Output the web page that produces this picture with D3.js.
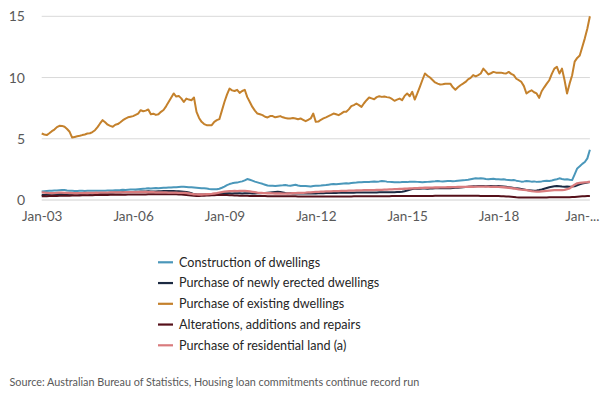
<!DOCTYPE html>
<html><head><meta charset="utf-8">
<script src="https://cdn.jsdelivr.net/npm/d3@7"></script>
<style>
html,body{margin:0;padding:0;background:#fff;}
svg{display:block;font-family:Lato,"Segoe UI","Open Sans",sans-serif;}
</style></head>
<body>
<svg id="chart" width="600" height="399"></svg>
<script>
// Monthly categories Jan-03 .. Jan-21
const startYear = 2003, monthCount = 217;
const categories = d3.range(monthCount).map(i => new Date(startYear, i, 1));
const tickLabels = ["Jan-03","Jan-06","Jan-09","Jan-12","Jan-15","Jan-18","Jan-..."];
const tickIndices = [0,36,72,108,144,180,216];
const yTicks = [0,5,10,15];

const seriesNames = ["Construction of dwellings","Purchase of newly erected dwellings","Purchase of existing dwellings","Alterations, additions and repairs","Purchase of residential land (a)"];
const seriesColors = ["#4a97ba","#1c2a42","#c4812c","#55101a","#d97b7d"];

const construction = [
0.70,0.72,0.74,0.75,0.76,0.78,0.78,0.80,0.82,0.81,0.78,0.76,
0.75,0.74,0.74,0.75,0.75,0.74,0.75,0.76,0.75,0.75,0.76,0.76,0.75,
0.75,0.77,0.78,0.78,0.80,0.80,0.81,0.83,0.82,0.84,0.85,0.86,0.86,0.88,0.90,0.92,0.93,
0.95,0.94,0.96,0.97,0.96,0.98,1.00,1.01,1.02,1.03,1.05,1.04,1.06,1.08,
1.09,1.07,1.05,1.04,1.02,1.00,0.98,0.96,0.95,0.93,0.90,0.88,0.87,0.87,
0.92,1.00,1.10,1.22,1.30,1.36,1.40,1.42,1.48,1.52,1.60,1.71,1.65,1.58,1.50,
1.44,1.38,1.32,1.25,1.18,1.16,1.17,1.15,1.17,1.19,1.20,1.22,1.18,1.16,1.20,
1.24,1.18,1.14,1.15,1.14,1.12,1.10,1.14,1.16,1.17,1.18,1.20,1.22,1.25,1.28,
1.30,1.28,1.30,1.32,1.34,1.36,1.35,1.38,1.40,1.42,1.45,1.44,1.46,1.48,1.47,1.50,1.52,
1.50,1.52,1.55,1.54,1.50,1.48,1.46,1.44,1.45,1.44,1.47,1.48,1.46,1.49,1.50,1.50,1.48,1.46,1.44,
1.46,1.48,1.50,1.52,1.53,1.55,1.53,1.52,1.54,1.55,1.56,1.54,1.55,1.58,1.60,1.62,1.63,1.66,1.70,1.74,1.77,1.75,
1.77,1.76,1.72,1.70,1.72,1.74,1.70,1.69,1.68,1.70,1.66,1.64,1.62,1.63,1.58,1.54,1.50,1.52,
1.55,1.53,1.50,1.52,1.48,1.50,1.52,1.55,1.57,1.56,1.60,1.65,1.70,1.77,1.72,1.68,1.70,1.65,
1.63,2.10,2.58,2.75,2.95,3.10,3.40,4.10];

const newlyErected = [
0.41,0.40,0.42,0.43,0.44,0.45,0.46,0.47,0.46,0.45,0.44,0.44,
0.45,0.46,0.47,0.48,0.49,0.50,0.51,0.52,0.53,0.54,0.55,0.56,
0.57,0.58,0.58,0.59,0.60,0.61,0.62,0.62,0.63,0.64,0.65,0.66,
0.66,0.67,0.68,0.69,0.70,0.70,0.71,0.70,0.69,0.70,0.71,0.72,
0.73,0.74,0.73,0.74,0.73,0.72,0.71,0.70,0.68,0.66,0.62,0.55,
0.48,0.46,0.45,0.44,0.45,0.46,0.47,0.48,0.50,0.52,0.53,0.54,
0.55,0.56,0.55,0.54,0.55,0.56,0.55,0.54,0.55,0.56,0.55,0.54,
0.54,0.55,0.56,0.57,0.58,0.60,0.62,0.64,0.66,0.68,0.66,0.62,
0.58,0.56,0.55,0.54,0.55,0.54,0.53,0.54,0.55,0.54,0.53,0.54,
0.54,0.55,0.56,0.56,0.57,0.57,0.58,0.58,0.58,0.59,0.59,0.59,
0.60,0.60,0.60,0.60,0.61,0.61,0.61,0.61,0.62,0.62,0.62,0.62,
0.62,0.63,0.63,0.63,0.63,0.64,0.64,0.64,0.65,0.66,0.68,0.72,
0.78,0.84,0.90,0.92,0.93,0.92,0.93,0.94,0.92,0.93,0.94,0.95,
0.96,0.95,0.96,0.97,0.95,0.96,0.98,0.99,1.00,1.02,1.04,1.06,
1.08,1.10,1.12,1.13,1.14,1.14,1.15,1.13,1.14,1.15,1.14,1.13,
1.14,1.12,1.10,1.08,1.05,1.02,0.98,0.95,0.93,0.90,0.86,0.82,
0.80,0.78,0.76,0.78,0.81,0.86,0.92,0.98,1.04,1.08,1.12,1.14,
1.12,1.10,1.09,1.10,1.09,1.10,1.12,1.20,1.28,1.34,1.38,1.42,1.46];

const existing = [
5.43,5.35,5.30,5.45,5.62,5.75,5.95,6.06,6.05,5.98,5.80,5.57,
5.10,5.15,5.20,5.24,5.30,5.35,5.43,5.45,5.55,5.70,5.95,6.25,
6.52,6.35,6.15,6.05,5.98,6.15,6.20,6.35,6.52,6.65,6.75,6.80,
6.85,6.95,7.06,7.33,7.25,7.30,7.39,7.00,7.05,6.95,7.00,7.20,
7.35,7.65,8.00,8.35,8.70,8.45,8.50,8.30,8.00,8.28,8.20,8.15,
8.37,7.20,6.70,6.38,6.20,6.11,6.11,6.11,6.38,6.52,6.60,7.30,
8.00,8.60,9.10,8.95,8.90,9.00,8.75,8.90,9.00,8.40,8.00,7.60,
7.30,7.06,7.00,6.93,6.80,6.74,6.85,6.85,6.75,6.80,6.85,6.75,
6.70,6.66,6.66,6.70,6.66,6.60,6.66,6.55,6.44,6.55,6.66,7.06,
6.38,6.40,6.55,6.66,6.75,6.85,6.95,7.06,7.00,6.93,7.05,7.20,
7.20,7.40,7.66,7.75,7.88,7.75,7.60,7.90,8.15,8.37,8.30,8.23,
8.40,8.47,8.42,8.45,8.40,8.37,8.25,8.10,8.20,8.28,8.15,8.50,
8.70,8.47,8.83,8.20,8.70,9.24,9.80,10.33,10.15,10.00,9.80,9.60,
9.50,9.43,9.45,9.50,9.50,9.50,9.20,9.00,9.20,9.37,9.50,9.64,
9.85,9.97,10.20,10.10,10.20,10.33,10.73,10.50,10.25,10.35,10.46,10.40,
10.40,10.40,10.35,10.33,10.46,10.30,10.19,9.90,9.78,9.64,9.30,8.70,
8.85,8.96,8.80,8.70,8.34,8.88,9.20,9.50,9.78,10.30,10.73,10.87,
10.33,10.73,9.80,8.70,9.50,10.19,11.30,11.60,11.80,12.50,13.20,14.00,15.00];

const alterations = [
0.30,0.31,0.31,0.32,0.32,0.33,0.33,0.34,0.34,0.34,0.35,0.35,
0.36,0.36,0.37,0.37,0.38,0.38,0.38,0.39,0.39,0.40,0.40,0.40,
0.41,0.41,0.41,0.42,0.42,0.42,0.43,0.43,0.43,0.43,0.44,0.44,
0.44,0.44,0.45,0.45,0.45,0.45,0.46,0.46,0.46,0.46,0.46,0.47,
0.47,0.47,0.47,0.47,0.46,0.46,0.45,0.44,0.42,0.40,0.38,0.36,
0.34,0.33,0.33,0.34,0.35,0.36,0.37,0.38,0.39,0.40,0.40,0.40,
0.40,0.40,0.39,0.38,0.37,0.36,0.35,0.35,0.34,0.34,0.33,0.33,
0.33,0.32,0.32,0.32,0.32,0.31,0.31,0.31,0.31,0.31,0.30,0.30,
0.30,0.30,0.30,0.30,0.30,0.29,0.29,0.29,0.29,0.29,0.29,0.29,
0.28,0.28,0.28,0.28,0.28,0.28,0.28,0.28,0.28,0.29,0.29,0.29,
0.29,0.29,0.29,0.30,0.30,0.30,0.30,0.30,0.30,0.30,0.31,0.31,
0.31,0.31,0.31,0.31,0.31,0.31,0.32,0.32,0.32,0.32,0.32,0.32,
0.32,0.32,0.33,0.33,0.33,0.33,0.33,0.33,0.33,0.33,0.33,0.34,
0.34,0.34,0.34,0.34,0.34,0.34,0.34,0.34,0.34,0.34,0.34,0.34,
0.34,0.34,0.34,0.34,0.34,0.33,0.33,0.33,0.33,0.33,0.32,0.32,
0.32,0.31,0.30,0.29,0.28,0.26,0.24,0.22,0.21,0.20,0.20,0.20,
0.20,0.20,0.20,0.20,0.21,0.21,0.21,0.21,0.22,0.22,0.22,0.22,
0.22,0.23,0.23,0.23,0.23,0.24,0.25,0.27,0.29,0.30,0.31,0.32,0.33];

const residentialLand = [
0.62,0.60,0.58,0.56,0.55,0.56,0.58,0.60,0.60,0.59,0.58,0.57,
0.56,0.55,0.55,0.56,0.56,0.57,0.57,0.58,0.58,0.59,0.59,0.60,
0.60,0.61,0.61,0.62,0.62,0.62,0.63,0.63,0.63,0.64,0.64,0.64,
0.65,0.65,0.65,0.64,0.65,0.66,0.65,0.64,0.64,0.63,0.63,0.62,
0.62,0.62,0.61,0.60,0.60,0.60,0.59,0.58,0.58,0.57,0.54,0.50,
0.47,0.46,0.45,0.45,0.46,0.47,0.48,0.50,0.53,0.56,0.60,0.64,
0.68,0.70,0.72,0.73,0.74,0.73,0.74,0.75,0.74,0.72,0.70,0.67,
0.64,0.61,0.59,0.57,0.56,0.55,0.55,0.54,0.53,0.54,0.53,0.52,
0.52,0.53,0.54,0.55,0.56,0.57,0.58,0.59,0.60,0.62,0.63,0.65,
0.66,0.67,0.68,0.69,0.70,0.70,0.71,0.72,0.72,0.73,0.74,0.75,
0.75,0.76,0.77,0.77,0.78,0.79,0.79,0.80,0.80,0.81,0.81,0.81,
0.82,0.82,0.83,0.84,0.85,0.86,0.87,0.88,0.89,0.90,0.91,0.92,
0.93,0.94,0.95,0.96,0.97,0.98,0.99,1.00,1.00,1.01,1.01,1.02,
1.02,1.03,1.03,1.03,1.04,1.04,1.05,1.05,1.06,1.06,1.07,1.07,
1.08,1.08,1.08,1.09,1.09,1.09,1.10,1.09,1.09,1.08,1.09,1.08,
1.07,1.06,1.04,1.02,1.00,0.97,0.94,0.90,0.87,0.84,0.82,0.80,
0.76,0.72,0.70,0.69,0.68,0.70,0.72,0.74,0.76,0.78,0.80,0.80,
0.80,0.81,0.82,0.88,0.95,1.10,1.25,1.36,1.40,1.42,1.44,1.46,1.49];

const seriesValues = [construction, newlyErected, existing, alterations, residentialLand];

const FONT = 'Lato,"Segoe UI","Open Sans",sans-serif';
const svg = d3.select("#chart");
const plot = {left: 41.7, right: 589.9, top: 16.3, bottom: 200};

const x = d3.scalePoint().domain(d3.range(monthCount)).range([plot.left, plot.right]);
const y = d3.scaleLinear().domain([0, 15]).range([plot.bottom, plot.top]);

// gridlines
svg.append("g").selectAll("line").data(yTicks).join("line")
  .attr("x1", plot.left).attr("x2", plot.right)
  .attr("y1", d => y(d)).attr("y2", d => y(d))
  .attr("stroke", d => d === 0 ? "#d0d0d0" : "#d9d9d9").attr("stroke-width", 1);

// y axis labels
const yAxis = d3.axisLeft(y).tickValues(yTicks).tickSize(0).tickPadding(0).tickFormat(d3.format("d"));
const gy = svg.append("g").attr("transform", `translate(25,0)`).call(yAxis);
gy.select(".domain").remove();
gy.selectAll("text").attr("fill", "#595959").style("font-size", "14px").style("font-family", FONT);

// x axis labels
const xAxis = d3.axisBottom(x).tickValues(tickIndices).tickSize(0).tickPadding(0)
  .tickFormat((d, i) => tickLabels[i]);
const gx = svg.append("g").attr("transform", `translate(0,${plot.bottom + 11})`).call(xAxis);
gx.select(".domain").remove();
gx.selectAll("text").attr("fill", "#595959").style("font-size", "13.5px").style("font-family", FONT);
gx.selectAll(".tick").filter((d, i) => i === tickIndices.length - 1)
  .select("text").attr("text-anchor", "end").attr("x", 599 - plot.right);

// lines
const line = d3.line().x((d, i) => x(i)).y(d => y(d)).curve(d3.curveLinear);
svg.append("g").selectAll("path").data(seriesValues).join("path")
  .attr("d", d => line(d))
  .attr("fill", "none")
  .attr("stroke", (d, i) => seriesColors[i])
  .attr("stroke-width", (d, i) => i === 4 ? 2.3 : 2)
  .attr("stroke-linejoin", "round");

// legend
const legend = svg.append("g").attr("transform", "translate(158,262.3)");
const rows = legend.selectAll("g").data(seriesNames).join("g")
  .attr("transform", (d, i) => `translate(0,${i * 20.75})`);
rows.append("line").attr("x1", 0).attr("x2", 15).attr("y1", 0).attr("y2", 0)
  .attr("stroke", (d, i) => seriesColors[i]).attr("stroke-width", 2.2);
rows.append("text").attr("x", 21).attr("y", 0).attr("dy", "0.35em")
  .attr("fill", "#262626").style("font-size", "12.6px").style("font-family", FONT).text(d => d);

// source
svg.append("text").attr("x", 9.5).attr("y", 386).attr("fill", "#595959")
  .style("font-size", "10.8px").style("font-family", FONT)
  .text("Source: Australian Bureau of Statistics, Housing loan commitments continue record run");
</script>
</body></html>
